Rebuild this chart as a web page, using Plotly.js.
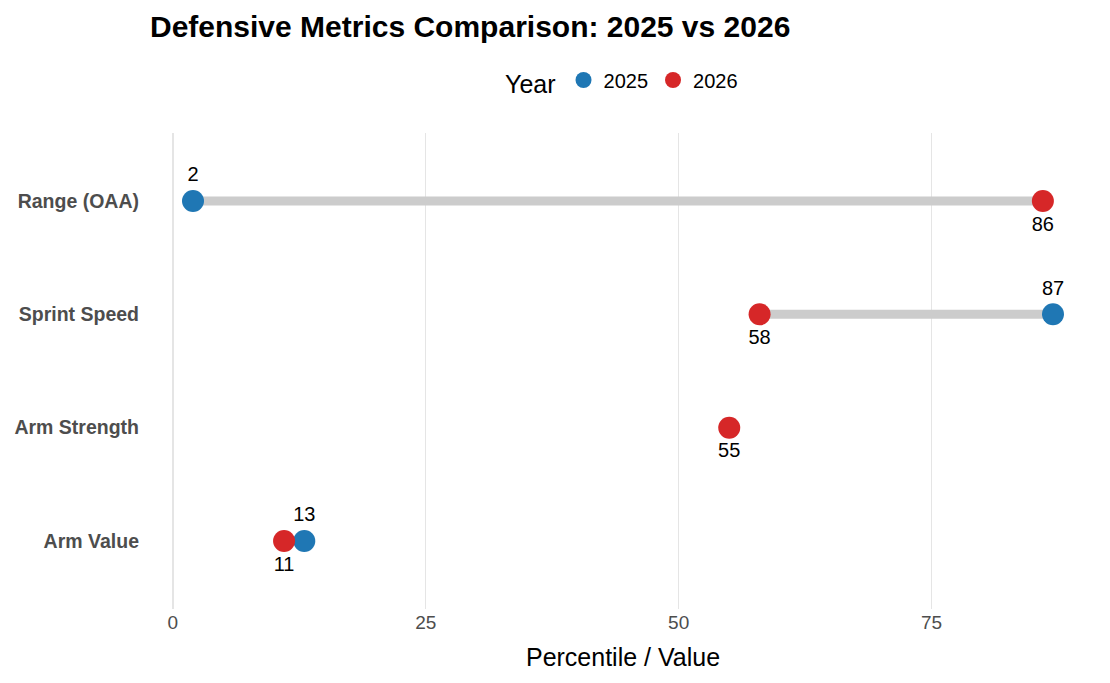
<!DOCTYPE html>
<html><head><meta charset="utf-8">
<script src="https://cdn.plot.ly/plotly-3.0.1.min.js"></script>
<style>html,body{margin:0;padding:0;background:#fff}#chart{width:1110px;height:683px}</style>
</head><body><div id="chart"></div>
<script>
const metrics = ['Range (OAA)', 'Sprint Speed', 'Arm Strength', 'Arm Value'];
const values2025 = [2, 87, null, 13];
const values2026 = [86, 58, 55, 11];
const xTicks = [0, 25, 50, 75];

const BLUE = '#1f77b4', RED = '#d62728', FONT = 'Liberation Sans, Arial, sans-serif';
const traces = [];
metrics.forEach((m, i) => {
  if (values2025[i] !== null && values2026[i] !== null) {
    traces.push({x: [values2025[i], values2026[i]], y: [m, m], type: 'scatter', mode: 'lines',
      line: {color: '#cccccc', width: 9}, showlegend: false, hoverinfo: 'skip'});
  }
});
const idx25 = metrics.map((m, i) => i).filter(i => values2025[i] !== null);
const idx26 = metrics.map((m, i) => i).filter(i => values2026[i] !== null);
traces.push({x: idx25.map(i => values2025[i]), y: idx25.map(i => metrics[i]), type: 'scatter',
  mode: 'markers+text', name: '2025', marker: {color: BLUE, size: 22},
  text: idx25.map(i => String(values2025[i])), textposition: 'top center',
  textfont: {family: FONT, size: 20, color: '#000'}, cliponaxis: false});
traces.push({x: idx26.map(i => values2026[i]), y: idx26.map(i => metrics[i]), type: 'scatter',
  mode: 'markers+text', name: '2026', marker: {color: RED, size: 22},
  text: idx26.map(i => String(values2026[i])), textposition: 'bottom center',
  textfont: {family: FONT, size: 20, color: '#000'}, cliponaxis: false});

const layout = {
  width: 1110, height: 683,
  margin: {l: 150, r: 14, t: 133, b: 74},
  paper_bgcolor: '#fff', plot_bgcolor: '#fff',
  font: {family: FONT, color: '#000'},
  title: {text: '<b>Defensive Metrics Comparison: 2025 vs 2026</b>', x: 150/1110, xanchor: 'left',
    xref: 'container', yref: 'container', y: 1 - 26/683, yanchor: 'middle',
    font: {size: 30, family: FONT, color: '#000'}},
  xaxis: {range: [-2.25, 91.25], tickvals: xTicks, ticktext: xTicks.map(String),
    showgrid: true, gridcolor: '#e5e5e5', gridwidth: 1.5, zeroline: false, showline: false,
    ticks: '', tickfont: {size: 19, color: '#4d4d4d', family: FONT},
    title: {text: 'Percentile / Value', font: {size: 25, color: '#000', family: FONT}, standoff: 16}},
  yaxis: {type: 'category', categoryarray: metrics.slice().reverse(), categoryorder: 'array',
    range: [-0.6, 3.6], showgrid: false, zeroline: false, showline: false, ticks: '',
    tickfont: {size: 19.5, color: '#4d4d4d', family: FONT}, ticklabelstandoff: 10,
    tickprefix: '<b>', ticksuffix: '</b>'},
  legend: {orientation: 'h', x: 0.5, xanchor: 'center', y: 1 + 51/476, yanchor: 'middle',
    title: {text: 'Year', font: {size: 25, color: '#000', family: FONT}},
    font: {size: 20, color: '#000', family: FONT}, itemwidth: 30},
  showlegend: true,
  hovermode: false
};
Plotly.newPlot('chart', traces, layout, {displayModeBar: false, staticPlot: true});
</script></body></html>
